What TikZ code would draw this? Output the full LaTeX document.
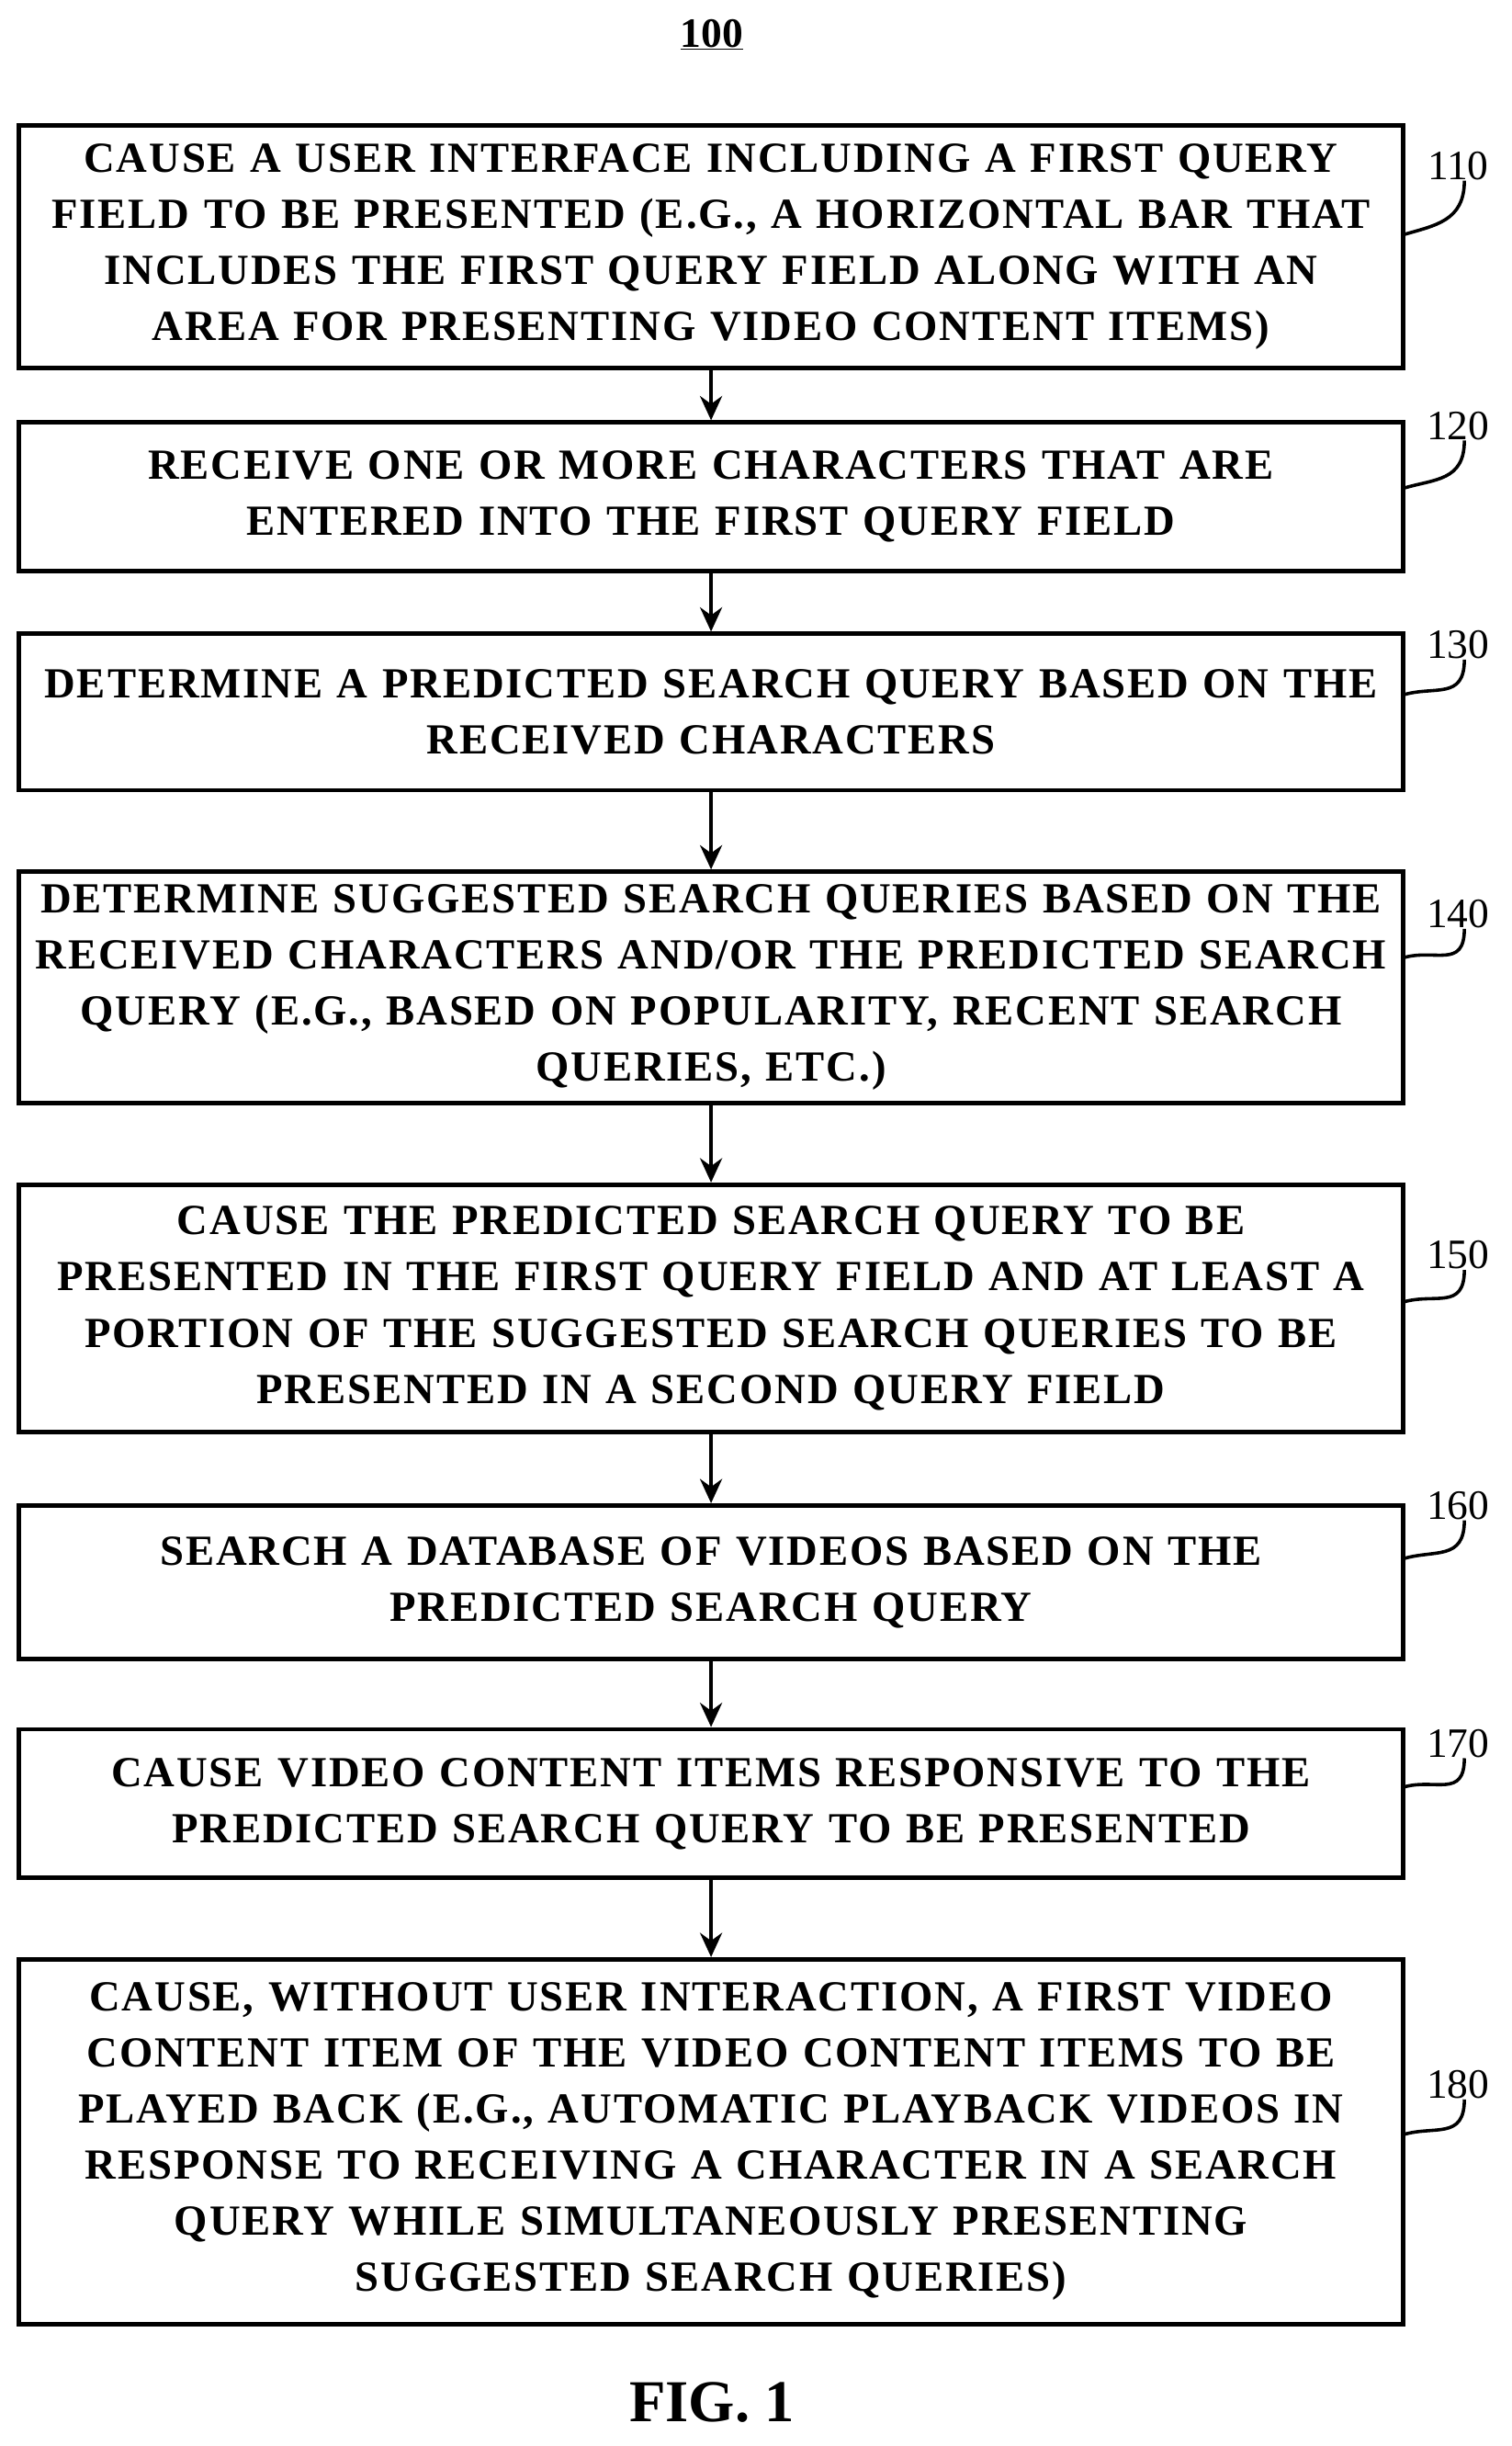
\documentclass[tikz,border=0pt]{standalone}
\usepackage{fontspec}
\setmainfont{Liberation Serif}
\usetikzlibrary{arrows.meta,calc}
\begin{document}
\begin{tikzpicture}[
 box/.style={draw,line width=4pt,minimum width=44.25cm,text width=43.8cm,align=center,inner sep=0pt,font=\fontsize{39}{51}\selectfont\bfseries\addfontfeatures{LetterSpace=4}},
 lbl/.style={font=\fontsize{38}{40}\selectfont},
 arr/.style={-{Stealth[length=22pt,width=20pt]},line width=4pt},
 lead/.style={line width=3pt}]
\useasboundingbox (0,0) rectangle (48.3,-78.15);
\node[font=\fontsize{38}{40}\selectfont\bfseries] (t) at (22.75,-1.1) {\underline{100}};
\node[box,minimum height=7.75cm] (b1) at (22.725,-7.875) {CAUSE A USER INTERFACE INCLUDING A FIRST QUERY\\FIELD TO BE PRESENTED (E.G., A HORIZONTAL BAR THAT\\INCLUDES THE FIRST QUERY FIELD ALONG WITH AN\\AREA FOR PRESENTING VIDEO CONTENT ITEMS)};
\node[box,minimum height=4.75cm] (b2) at (22.725,-15.875) {RECEIVE ONE OR MORE CHARACTERS THAT ARE\\ENTERED INTO THE FIRST QUERY FIELD};
\node[box,minimum height=5cm] (b3) at (22.725,-22.75) {DETERMINE A PREDICTED SEARCH QUERY BASED ON THE\\RECEIVED CHARACTERS};
\node[box,minimum height=7.4cm] (b4) at (22.725,-31.55) {DETERMINE SUGGESTED SEARCH QUERIES BASED ON THE\\RECEIVED CHARACTERS AND/OR THE PREDICTED SEARCH\\QUERY (E.G., BASED ON POPULARITY, RECENT SEARCH\\QUERIES, ETC.)};
\node[box,minimum height=7.9cm] (b5) at (22.725,-41.8) {CAUSE THE PREDICTED SEARCH QUERY TO BE\\PRESENTED IN THE FIRST QUERY FIELD AND AT LEAST A\\PORTION OF THE SUGGESTED SEARCH QUERIES TO BE\\PRESENTED IN A SECOND QUERY FIELD};
\node[box,minimum height=4.9cm] (b6) at (22.725,-50.55) {SEARCH A DATABASE OF VIDEOS BASED ON THE\\PREDICTED SEARCH QUERY};
\node[box,minimum height=4.75cm] (b7) at (22.725,-57.625) {CAUSE VIDEO CONTENT ITEMS RESPONSIVE TO THE\\PREDICTED SEARCH QUERY TO BE PRESENTED};
\node[box,minimum height=11.65cm] (b8) at (22.725,-68.425) {CAUSE, WITHOUT USER INTERACTION, A FIRST VIDEO\\CONTENT ITEM OF THE VIDEO CONTENT ITEMS TO BE\\PLAYED BACK (E.G., AUTOMATIC PLAYBACK VIDEOS IN\\RESPONSE TO RECEIVING A CHARACTER IN A SEARCH\\QUERY WHILE SIMULTANEOUSLY PRESENTING\\SUGGESTED SEARCH QUERIES)};
\node[font=\fontsize{54}{56}\selectfont\bfseries] (fig) at (22.75,-76.75) {FIG. 1};
\foreach \a/\b in {b1/b2,b2/b3,b3/b4,b4/b5,b5/b6,b6/b7,b7/b8}
  \draw[arr] (\a.south) -- (\b.north);
\foreach \b/\n/\ly/\ey in {b1/110/5.3/7.5,b2/120/13.6/15.6,b3/130/20.6/22.2,b4/140/29.2/30.6,b5/150/40.1/41.6,b6/160/48.1/49.8,b7/170/55.7/57.1,b8/180/66.6/68.2}{
  \node[lbl] (L\n) at (46.6,-\ly) {\n};
  \coordinate (E\n) at (44.85,-\ey);
  \draw[lead] ($(L\n.south)+(0.2,0.1)$) .. controls ($(L\n.south)+(0.2,-1.2)$) and ($(E\n)+(1.0,0.3)$) .. (E\n);
}
\end{tikzpicture}
\end{document}
